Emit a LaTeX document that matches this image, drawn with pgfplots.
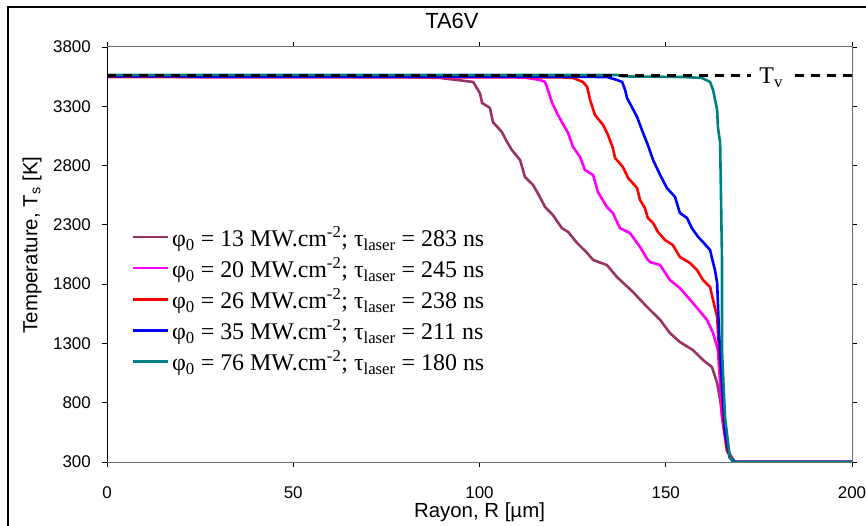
\documentclass[border=0pt]{standalone}
\usepackage{pgfplots}
\pgfplotsset{compat=1.18}
\usepackage{fontspec}
\setmainfont{Liberation Serif}
\setsansfont{Liberation Sans}
\definecolor{plum}{RGB}{153,51,102}
\definecolor{tealc}{RGB}{0,128,128}
\definecolor{magc}{RGB}{255,0,255}
\definecolor{redc}{RGB}{255,0,0}
\definecolor{bluec}{RGB}{0,0,255}
\begin{document}
\begin{tikzpicture}
\useasboundingbox (0,0) rectangle (866bp,526bp);
\draw[line width=1.3bp] (8bp,-10bp) -- (8bp,519bp) -- (880bp,519bp);
\begin{axis}[
  at={(107bp,64bp)}, anchor=south west,
  scale only axis, width=745bp, height=415bp,
  xmin=0, xmax=200, ymin=300, ymax=3800,
  xtick={0,50,100,150,200}, ytick={300,800,1300,1800,2300,2800,3300,3800},
  tick align=outside, major tick length=5bp,
  tick style={black, line width=0.8bp},
  axis line style={gray!85!black, line width=1bp},
  /pgf/number format/assume math mode=true,
  /pgf/number format/1000 sep={},
  ticklabel style={font=\sffamily\fontsize{17}{17}\selectfont},
  yticklabel style={anchor=east, inner sep=0pt, xshift=-11bp},
  xticklabel style={anchor=north, inner sep=0pt, yshift=-19bp},
  xlabel={Rayon, R [µm]},
  ylabel={Temperature, T\textsubscript{s} [K]},
  label style={font=\sffamily\fontsize{20.5}{20.5}\selectfont},
  xlabel style={at={(rel axis cs:0.5,-0.122)}, anchor=center},
  ylabel style={at={(rel axis cs:-0.1007,0.523)}, anchor=center},
  title={TA6V},
  title style={at={(rel axis cs:0.463,1.048)}, anchor=center, font=\sffamily\fontsize{22}{22}\selectfont},
  legend style={at={(rel axis cs:0.03,0.578)}, anchor=north west, draw=none, fill=none,
    font=\fontsize{24}{24}\selectfont, inner sep=2bp, row sep=5.5bp,
    nodes={inner xsep=3bp}},
  legend cell align=left,
  legend image code/.code={\draw[#1, line width=2.6bp] (0bp,0bp) -- (35bp,0bp);},
  every axis plot/.append style={line width=2.6bp},
]
\addplot[plum] coordinates {
(0,3548) (60,3546) (85,3543) (89.4,3539) (98.3,3505) (100.1,3412) (100.7,3328) (102.8,3286) (103.6,3167)
(106.0,3083) (107.4,2999) (108.7,2931) (110.9,2847) (112.2,2704) (114.4,2636) (116.2,2535)
(117.6,2451) (119.7,2383) (122.1,2273) (123.8,2240) (126.2,2147) (128.9,2063) (130.5,2004)
(134.2,1961) (136.9,1860) (141.2,1734) (145.0,1607) (148.5,1498) (151.1,1388) (153.8,1312)
(157.3,1244) (160.0,1160) (162.4,1101) (163.8,966) (164.6,823) (165.4,629) (166.7,401)
(167.8,334) (168.6,300) (200,300)};
\addlegendentry{φ\textsubscript{0} = 13 MW.cm\textsuperscript{-2}; τ\textsubscript{laser} = 283 ns}
\addplot[magc] coordinates {
(0,3548) (80,3546) (112,3543) (116.2,3522) (117.6,3505) (118.1,3463) (119.5,3328) (120.8,3243) (122.1,3167)
(123.8,3075) (125.1,2957) (127.0,2872) (128.3,2763) (130.5,2720) (131.8,2577) (134.2,2451)
(135.8,2400) (137.7,2273) (140.4,2231) (143.1,2113) (145.2,2004) (145.8,1987) (148.5,1961)
(151.1,1835) (153.8,1767) (157.3,1641) (161.1,1498) (162.7,1388) (164.0,1244) (164.6,966)
(165.1,679) (166.4,401) (167.8,317) (168.6,300) (200,300)};
\addlegendentry{φ\textsubscript{0} = 20 MW.cm\textsuperscript{-2}; τ\textsubscript{laser} = 245 ns}
\addplot[redc] coordinates {
(0,3549) (100,3547) (122,3544) (125.1,3539) (127.8,3505) (128.9,3463) (129.7,3353) (131.0,3226) (133.2,3142)
(134.5,3058) (135.8,2948) (136.4,2864) (138.5,2788) (139.9,2695) (142.3,2611) (143.1,2510)
(144.4,2442) (145.2,2358) (146.6,2316) (147.9,2240) (149.8,2172) (151.9,2130) (153.8,2029)
(156.5,1978) (158.4,1919) (160.0,1835) (161.9,1776) (162.7,1666) (163.8,1523) (164.3,1244)
(165.1,907) (165.4,679) (166.4,401) (167.8,317) (168.6,300) (200,300)};
\addlegendentry{φ\textsubscript{0} = 26 MW.cm\textsuperscript{-2}; τ\textsubscript{laser} = 238 ns}
\addplot[bluec] coordinates {
(0,3552) (110,3550) (134.2,3547) (136.9,3522) (138.3,3505) (139.1,3437) (139.6,3370) (140.9,3294)
(142.3,3210) (143.6,3100) (145.2,2973) (146.6,2847) (148.5,2720) (150.3,2611) (152.5,2535)
(153.3,2451) (153.8,2400) (155.7,2358) (157.0,2273) (158.7,2198) (160.0,2155) (161.9,2088)
(162.4,2020) (163.2,1919) (163.8,1810) (164.3,1388) (165.1,966) (165.9,544) (167.2,334)
(168.6,300) (200,300)};
\addlegendentry{φ\textsubscript{0} = 35 MW.cm\textsuperscript{-2}; τ\textsubscript{laser} = 211 ns}
\addplot[tealc] coordinates {
(0,3565) (137,3564) (138.5,3552) (154.6,3547) (159.7,3539) (161.9,3505) (162.7,3437) (163.8,3269)
(164.0,3125) (164.6,2990) (165.1,2004) (165.1,1244) (165.9,679) (167.2,342) (168.1,300) (200,300)};
\addlegendentry{φ\textsubscript{0} = 76 MW.cm\textsuperscript{-2}; τ\textsubscript{laser} = 180 ns}
\addplot[black, line width=2.6bp, dash pattern=on 9bp off 7bp, forget plot] coordinates {(0,3560) (200,3560)};
\node[fill=white, inner xsep=8bp, inner ysep=1bp, anchor=base, font=\fontsize{24}{24}\selectfont] at (axis cs:178.3,3560) [yshift=-8bp] {T\textsubscript{v}};
\draw[black, line width=1bp] (rel axis cs:0,1) -- (rel axis cs:0,0) -- (rel axis cs:1,0);
\end{axis}
\end{tikzpicture}
\end{document}
